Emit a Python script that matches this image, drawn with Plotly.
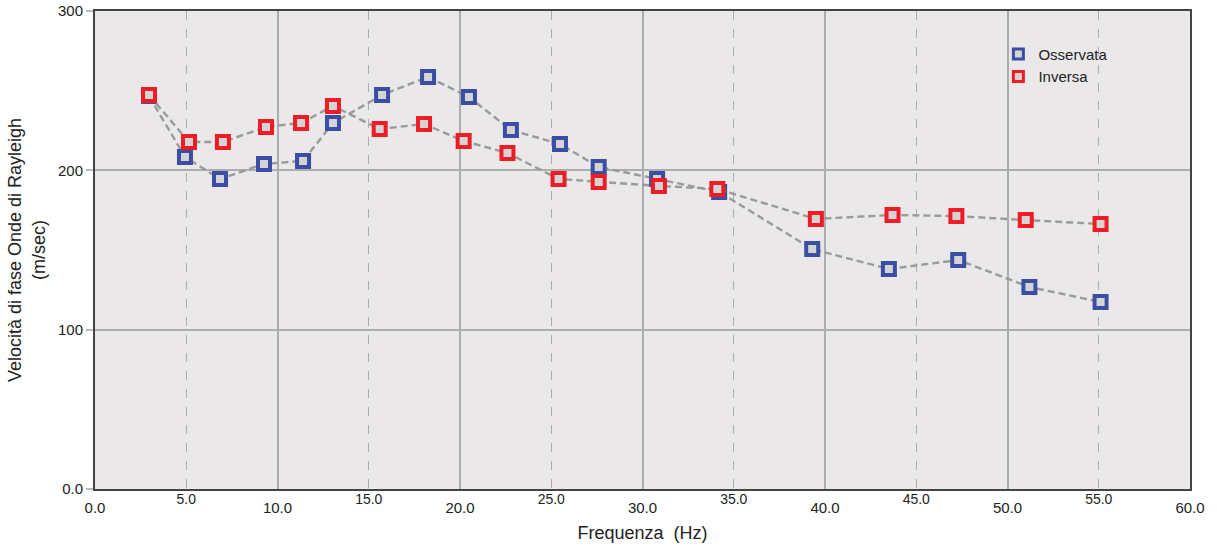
import plotly.graph_objects as go

freq_oss = [2.96, 4.93, 6.85, 9.26, 11.4, 13.04, 15.73, 18.25, 20.49, 22.79, 25.48, 27.6, 30.8, 34.2, 39.3, 43.5, 47.3, 51.2, 55.1]
vel_oss = [246.6, 208.4, 194.6, 204.0, 205.9, 229.7, 247.3, 258.6, 246.0, 225.3, 216.5, 202.1, 194.6, 186.4, 150.6, 138.1, 143.7, 126.8, 117.4]
freq_inv = [2.96, 5.15, 7.01, 9.37, 11.29, 13.04, 15.6, 18.03, 20.2, 22.6, 25.4, 27.6, 30.9, 34.1, 39.5, 43.7, 47.2, 51.0, 55.1]
vel_inv = [247.3, 217.8, 217.8, 227.2, 229.7, 240.4, 225.9, 229.1, 218.4, 210.9, 194.6, 192.7, 190.2, 188.3, 169.5, 172.0, 171.3, 168.8, 166.3]

x_major = [0, 10, 20, 30, 40, 50, 60]
x_major_txt = ["0.0", "10.0", "20.0", "30.0", "40.0", "50.0", "60.0"]
x_minor = [5, 15, 25, 35, 45, 55]
x_minor_txt = ["5.0", "15.0", "25.0", "35.0", "45.0", "55.0"]
y_ticks = [0, 100, 200, 300]
y_ticks_txt = ["0.0", "100", "200", "300"]

BLUE = "#3a4ea3"
RED = "#ee1c25"
LINE = "#9a9a9a"
FILL = "#d4d4d4"

fig = go.Figure()
for name, xs, ys, col in [("Osservata", freq_oss, vel_oss, BLUE), ("Inversa", freq_inv, vel_inv, RED)]:
    mk = dict(symbol="square", size=12, color=FILL, line=dict(color=col, width=4))
    fig.add_trace(go.Scatter(
        x=xs, y=ys, name=name, mode="lines+markers", showlegend=False,
        line=dict(color=LINE, width=2.4, dash="7px,4px"),
        marker=mk,
    ))
    fig.add_trace(go.Scatter(x=[None], y=[None], name=name, mode="markers",
                             marker=dict(symbol="square", size=10, color=FILL, line=dict(color=col, width=3))))

# dummy trace on minor axis to activate it
fig.add_trace(go.Scatter(x=[None], y=[None], xaxis="x2", showlegend=False, hoverinfo="skip"))

fig.update_layout(
    width=1217, height=552,
    margin=dict(l=95, r=27, t=11, b=63, autoexpand=False),
    paper_bgcolor="white",
    plot_bgcolor="#eae8e9",
    font=dict(family="Liberation Sans, Arial, sans-serif", size=15, color="#222"),
    showlegend=True,
    legend=dict(x=0.825, y=0.944, xanchor="left", yanchor="top", bgcolor="rgba(0,0,0,0)",
                font=dict(size=15, color="#222"), itemwidth=30, tracegroupgap=0),
    xaxis=dict(
        range=[0, 60], tickvals=x_major, ticktext=x_major_txt,
        showgrid=True, gridcolor="#adadad", gridwidth=1.5,
        zeroline=False, showline=True, linecolor="#444", linewidth=2, mirror=True,
        ticks="", ticklabelstandoff=4, tickfont=dict(size=15), automargin=False,
        title=dict(text="Frequenza  (Hz)", font=dict(size=18), standoff=11),
    ),
    xaxis2=dict(
        range=[0, 60], overlaying="x", anchor="y", side="bottom",
        tickvals=x_minor, ticktext=x_minor_txt,
        showgrid=True, gridcolor="#adadad", gridwidth=1, griddash="dash",
        zeroline=False, showline=False, ticks="", ticklabelstandoff=0,
        tickfont=dict(size=14), automargin=False,
    ),
    yaxis=dict(
        range=[0, 300], tickvals=y_ticks, ticktext=y_ticks_txt,
        showgrid=True, gridcolor="#adadad", gridwidth=1.5,
        zeroline=False, showline=True, linecolor="#444", linewidth=2, mirror=True,
        ticks="outside", ticklen=7, tickcolor="#bbb", tickwidth=2,
        tickfont=dict(size=15), automargin=False,
        title=dict(text="Velocità di fase Onde di Rayleigh<br>(m/sec)", font=dict(size=18), standoff=8),
    ),
)

fig.write_html("out.html", config={"displayModeBar": False},
               post_script="document.body.style.margin='0';document.body.style.padding='0';")
